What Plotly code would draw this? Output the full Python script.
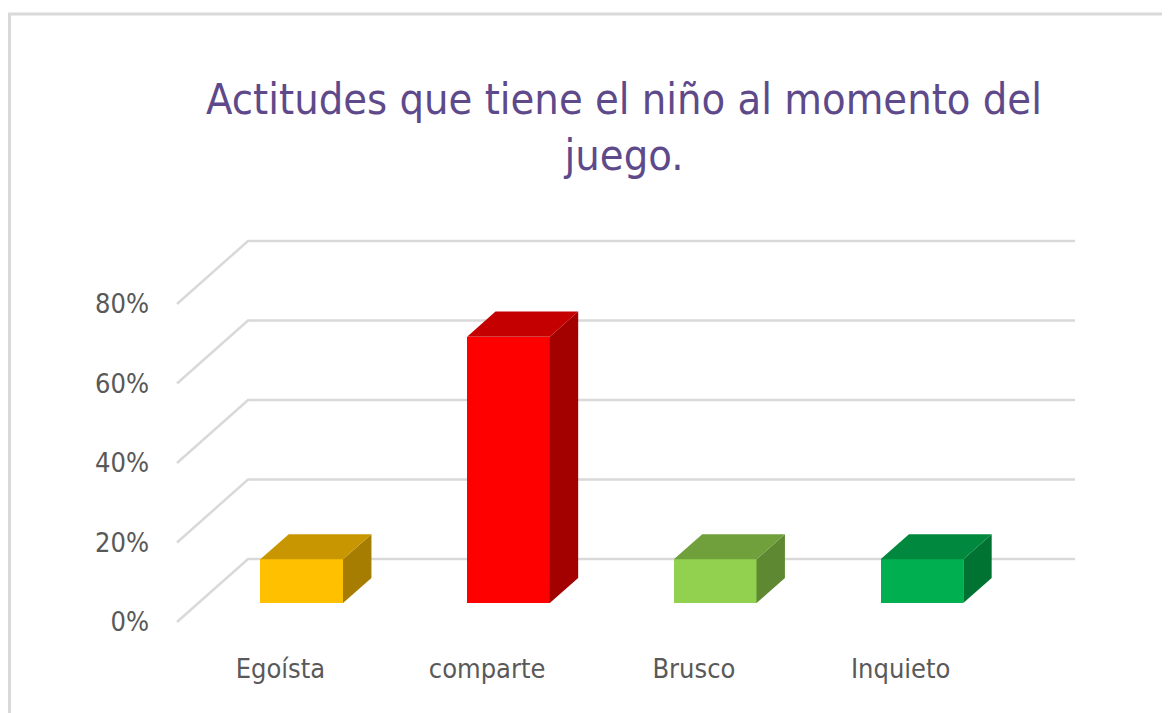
import plotly.graph_objects as go

# ---- data ----
categories = ["Egoísta", "comparte", "Brusco", "Inquieto"]
values = [11, 67, 11, 11]          # percent
y_ticks = [0, 20, 40, 60, 80]
y_tick_labels = ["0%", "20%", "40%", "60%", "80%"]

# ---- styles ----
front_colors = ["#FFC000", "#FF0000", "#92D050", "#00B050"]
top_colors = ["#C89600", "#C40000", "#70A03C", "#00893E"]
side_colors = ["#A67D00", "#A30000", "#5E8832", "#007232"]
title_color = "#5E4A8A"
text_color = "#595959"
grid_color = "#D9D9D9"
FONT = "Liberation Sans Narrow, DejaVu Sans Condensed, Arial Narrow, sans-serif"

# oblique 3D projection (in axis units): full floor depth offset
DX = 0.3434      # category units
DY = 15.85       # percent units
D_FRONT, D_BACK = 0.3, 0.7   # bar depth span (fraction of floor depth)
BAR_W = 0.4

fig = go.Figure()

# bars (all faces as filled polygons in data coordinates)
for i, (cat, v) in enumerate(zip(categories, values)):
    xl = i - BAR_W / 2 + D_FRONT * DX
    xr = i + BAR_W / 2 + D_FRONT * DX
    yb = D_FRONT * DY
    yt = yb + v
    ddx = (D_BACK - D_FRONT) * DX
    ddy = (D_BACK - D_FRONT) * DY
    # side face
    fig.add_trace(go.Scatter(
        x=[xr, xr, xr + ddx, xr + ddx, xr],
        y=[yb, yt, yt + ddy, yb + ddy, yb],
        fill="toself", fillcolor=side_colors[i], mode="lines",
        line=dict(width=0, color=side_colors[i]),
        hoverinfo="skip", showlegend=False))
    # top face
    fig.add_trace(go.Scatter(
        x=[xl, xr, xr + ddx, xl + ddx, xl],
        y=[yt, yt, yt + ddy, yt + ddy, yt],
        fill="toself", fillcolor=top_colors[i], mode="lines",
        line=dict(width=0, color=top_colors[i]),
        hoverinfo="skip", showlegend=False))
    # front face
    fig.add_trace(go.Bar(
        x=[i + D_FRONT * DX], y=[v], base=[yb], width=[BAR_W],
        marker=dict(color=front_colors[i], line=dict(width=0)),
        name=cat, hovertemplate=cat + ": %{y}%<extra></extra>",
        showlegend=False))

# layout geometry (figure pixels; page adds an 8px body margin)
W, H = 1170, 713
L, T = 142, 192
plot_w, plot_h = 950, 450
R = W - L - plot_w
B = H - T - plot_h
px_per_cat = 206.75
px_per_pct = 3.975
x0_px, y0_px = 169, 614   # front-plane origin (x=-0.5, y=0)

x_range = [(L - x0_px) / px_per_cat - 0.5, (L + plot_w - x0_px) / px_per_cat - 0.5]
y_range = [(y0_px - (T + plot_h)) / px_per_pct, (y0_px - T) / px_per_pct]

# wall gridlines (side wall diagonal + back wall horizontal), below the bars
x_left, x_right = -0.5, 3.5
shapes = []
for v in y_ticks:
    path = "M {},{} L {},{} L {},{}".format(
        x_left, v, x_left + DX, v + DY, x_right + DX, v + DY)
    shapes.append(dict(type="path", xref="x", yref="y", path=path,
                       line=dict(color=grid_color, width=2.5), layer="below"))

# outer chart border
shapes.append(dict(type="rect", xref="paper", yref="paper",
                   x0=(1.5 - L) / plot_w, x1=(W + 20 - L) / plot_w,
                   y0=(T + plot_h - (H + 20)) / plot_h, y1=(T + plot_h - 6) / plot_h,
                   line=dict(color=grid_color, width=3), layer="below"))

fig.update_layout(
    width=W, height=H,
    margin=dict(l=L, r=R, t=T, b=B),
    paper_bgcolor="white", plot_bgcolor="white",
    title=dict(
        text="Actitudes que tiene el niño al momento del<br>juego.",
        x=616 / W, xanchor="center", y=1 - 106 / H, yanchor="top",
        font=dict(family=FONT, size=43, color=title_color)),
    xaxis=dict(range=x_range, tickmode="array", tickvals=list(range(len(categories))),
               ticktext=categories, showgrid=False, zeroline=False, showline=False,
               tickfont=dict(family=FONT, size=27, color=text_color), fixedrange=True),
    yaxis=dict(range=y_range, tickmode="array", tickvals=y_ticks, ticktext=y_tick_labels,
               showgrid=False, zeroline=False, showline=False,
               tickfont=dict(family=FONT, size=27, color=text_color), fixedrange=True),
    bargap=0,
    shapes=shapes,
)

fig.write_html("out.html")
